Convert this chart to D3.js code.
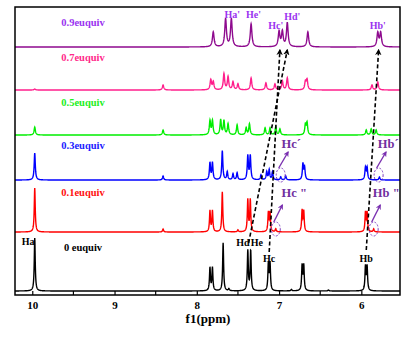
<!DOCTYPE html>
<html>
<head>
<meta charset="utf-8">
<script src="https://cdn.jsdelivr.net/npm/d3@7"></script>
<style>
body { margin: 0; background: #fff; }
text { font-family: "Liberation Serif", "Times New Roman", serif; font-weight: bold; }
</style>
</head>
<body>
<div id="chart"></div>
<script>
var w = 413, h = 339;

// series, bottom to top
var seriesNames = ["0 euquiv", "0.1euquiv", "0.3euquiv", "0.5euquiv", "0.7euquiv", "0.9euquiv"];
var lineColors = ["#000000", "#ff0000", "#0000ff", "#00ee00", "#ff1f8c", "#8e0a8e"];
var labelColors = ["#000000", "#ff1010", "#2020ff", "#22ee22", "#ff2a8a", "#9a33f0"];
var offsets = [4, 63, 115, 160, 205, 248];
var labelLevels = [44, 99, 146, 189, 234, 269];
var widths = [0.007, 0.007, 0.008, 0.009, 0.010, 0.012];

// peaks: [ppm, height]
var peaks0 = [[9.97, 53], [7.84, 23], [7.81, 23], [7.68, 48], [7.61, 2], [7.38, 40], [7.345, 40],
              [7.13, 27], [7.11, 27], [6.85, 1.5], [6.72, 25], [6.70, 25], [6.4, 1], [5.95, 24], [5.93, 24]];
var peaks1 = [[9.97, 44], [8.41, 3], [7.84, 21], [7.81, 21], [7.69, 40], [7.5, 2], [7.38, 32], [7.35, 32],
              [7.13, 19], [7.11, 19], [7.04, 3], [6.72, 21], [6.70, 20], [5.95, 19], [5.93, 19], [5.85, 3]];
var peaks2 = [[9.97, 27], [8.41, 4], [7.84, 17], [7.81, 17], [7.69, 29], [7.63, 8], [7.56, 6], [7.51, 7],
              [7.38, 24], [7.35, 24], [7.22, 5], [7.15, 8], [7.12, 10], [7.08, 8], [6.98, 3], [6.92, 4],
              [6.71, 16], [6.69, 12], [5.95, 12], [5.93, 12], [5.78, 3]];
var peaks3 = [[9.97, 8], [8.41, 5], [7.84, 14], [7.81, 14], [7.71, 15], [7.67, 14], [7.62, 11], [7.51, 10],
              [7.40, 7], [7.36, 11], [7.17, 7], [7.11, 7], [7.04, 8], [6.99, 6], [6.68, 10], [6.66, 12],
              [5.94, 5], [5.88, 6], [5.82, 5]];
var peaks4 = [[9.97, 1], [8.41, 5], [7.83, 10], [7.80, 8], [7.67, 16], [7.62, 13], [7.56, 8], [7.50, 6],
              [7.34, 12], [7.16, 7], [7.05, 6], [6.96, 9], [6.90, 12], [6.68, 8], [6.66, 10],
              [5.87, 5], [5.80, 8]];
var peaks5 = [[7.80, 15], [7.65, 28], [7.58, 28], [7.34, 23], [7.00, 15], [6.96, 15], [6.90, 24],
              [6.65, 15], [5.80, 14], [5.765, 14]];
var peakSets = [peaks0, peaks1, peaks2, peaks3, peaks4, peaks5];

// peak labels: [text, ppm, height, color]
var peakLabels = [["Ha", 10.05, 50, "#000"], ["Hd", 7.44, 49, "#000"], ["He", 7.27, 49, "#000"],
                  ["Hc", 7.12, 33, "#000"], ["Hb", 5.94, 33, "#000"],
                  ["Ha'", 7.57, 277, "#9a33f0"], ["He'", 7.31, 277, "#9a33f0"], ["Hc'", 7.04, 266, "#9a33f0"],
                  ["Hd'", 6.84, 275, "#9a33f0"], ["Hb'", 5.80, 266, "#9a33f0"]];
// shifted-peak notes: [text, ppm(left), height]
var notes = [["Hc\u00b4", 6.97, 147], ["Hb\u00b4", 5.80, 147], ["Hc \"", 6.97, 98], ["Hb \"", 5.86, 98]];
// dashed circles + arrow: [ppm, height, arrow end ppm, arrow end height]
var circles = [[6.98, 120, 6.89, 143], [5.79, 120, 5.70, 143], [7.04, 66, 6.96, 90], [5.85, 66, 5.77, 90]];
// peak tracking lines: [from ppm, from h, to ppm, to h]
var tracks = [[7.37, 52, 6.90, 245], [7.12, 43, 6.99, 245], [5.94, 45, 5.79, 245]];

var xTicks = [10, 9, 8, 7, 6];
var xMinor = [9.5, 8.5, 7.5, 6.5];

var x = d3.scaleLinear().domain([10.21, 5.53]).range([15, 400]);
var y = d3.scaleLinear().domain([0, 290]).range([295, 5]);

var svg = d3.select("#chart").append("svg")
    .attr("width", w)
    .attr("height", h);

var defs = svg.append("defs");
function marker(id, color) {
    defs.append("marker")
        .attr("id", id)
        .attr("viewBox", "0 0 10 10")
        .attr("refX", 8).attr("refY", 5)
        .attr("markerWidth", 4).attr("markerHeight", 4)
        .attr("orient", "auto")
        .append("path")
        .attr("d", "M0,0 L10,5 L0,10 L3,5 Z")
        .attr("fill", color);
}
marker("arrBlack", "#000");
marker("arrPurple", "#7a30b0");

svg.append("clipPath").attr("id", "area")
    .append("rect")
    .attr("x", 15).attr("y", 7)
    .attr("width", 385).attr("height", 288);

var grid = d3.range(5.53, 10.21, 0.002);
var line = d3.line()
    .x(function(d) { return x(d[0]); })
    .y(function(d) { return y(d[1]); });

var traces = svg.append("g").attr("clip-path", "url(#area)");
peakSets.forEach(function(pk, i) {
    var g = widths[i];
    var pts = grid.map(function(p) {
        var s = offsets[i];
        pk.forEach(function(q) {
            var u = (p - q[0]) / g;
            s += q[1] / (1 + u * u);
        });
        return [p, s];
    });
    traces.append("path")
        .datum(pts)
        .attr("d", line)
        .attr("fill", "none")
        .attr("stroke", lineColors[i])
        .attr("stroke-width", 1.4);
});

// series labels
svg.selectAll(".slabel")
    .data(seriesNames)
    .enter()
    .append("text")
    .attr("class", "slabel")
    .attr("x", 83)
    .attr("y", function(d, i) { return y(labelLevels[i]); })
    .attr("text-anchor", "middle")
    .attr("font-size", "10.5px")
    .attr("fill", function(d, i) { return labelColors[i]; })
    .text(function(d) { return d; });

// tracking lines
svg.selectAll(".track")
    .data(tracks)
    .enter()
    .append("line")
    .attr("x1", function(d) { return x(d[0]); })
    .attr("y1", function(d) { return y(d[1]); })
    .attr("x2", function(d) { return x(d[2]); })
    .attr("y2", function(d) { return y(d[3]); })
    .attr("stroke", "#000")
    .attr("stroke-width", 1.6)
    .attr("stroke-dasharray", "4,2.5")
    .attr("marker-end", "url(#arrBlack)");

svg.selectAll(".plabel")
    .data(peakLabels)
    .enter()
    .append("text")
    .attr("x", function(d) { return x(d[1]); })
    .attr("y", function(d) { return y(d[2]); })
    .attr("text-anchor", "middle")
    .attr("font-size", "10px")
    .attr("fill", function(d) { return d[3]; })
    .text(function(d) { return d[0]; });

// dashed circles and arrows
svg.selectAll(".circ")
    .data(circles)
    .enter()
    .append("ellipse")
    .attr("cx", function(d) { return x(d[0]); })
    .attr("cy", function(d) { return y(d[1]); })
    .attr("rx", 4.5).attr("ry", 7)
    .attr("fill", "none")
    .attr("stroke", "#8040c0")
    .attr("stroke-width", 1)
    .attr("stroke-dasharray", "2,1.5");

svg.selectAll(".carr")
    .data(circles)
    .enter()
    .append("line")
    .attr("x1", function(d) { return x(d[0]) - 2; })
    .attr("y1", function(d) { return y(d[1]) - 7; })
    .attr("x2", function(d) { return x(d[2]); })
    .attr("y2", function(d) { return y(d[3]); })
    .attr("stroke", "#7a30b0")
    .attr("stroke-width", 1.4)
    .attr("marker-end", "url(#arrPurple)");

svg.selectAll(".note")
    .data(notes)
    .enter()
    .append("text")
    .attr("x", function(d) { return x(d[1]); })
    .attr("y", function(d) { return y(d[2]); })
    .attr("font-size", "12.5px")
    .attr("fill", "#7030a0")
    .text(function(d) { return d[0]; });

// axis
var xaxis = d3.axisBottom(x).tickValues(xTicks).tickFormat(d3.format("d"))
    .tickSizeInner(-4).tickSizeOuter(0).tickPadding(6);
var ax = svg.append("g")
    .attr("transform", "translate(0,295)")
    .call(xaxis);
ax.select(".domain").remove();
ax.selectAll("line").attr("stroke", "#000").attr("stroke-width", 1.2);
ax.selectAll("text")
    .attr("font-family", "Liberation Serif, serif")
    .attr("font-weight", "bold")
    .attr("font-size", "11px")
    .attr("fill", "#000");

svg.selectAll(".minor")
    .data(xMinor)
    .enter()
    .append("line")
    .attr("x1", function(d) { return x(d); })
    .attr("x2", function(d) { return x(d); })
    .attr("y1", 295).attr("y2", 291)
    .attr("stroke", "#000")
    .attr("stroke-width", 1.2);

svg.append("rect")
    .attr("x", 15).attr("y", 7)
    .attr("width", 385).attr("height", 288)
    .attr("fill", "none")
    .attr("stroke", "#000")
    .attr("stroke-width", 1.5);

svg.append("text")
    .attr("x", 208)
    .attr("y", 323)
    .attr("text-anchor", "middle")
    .attr("font-size", "13px")
    .attr("fill", "#000")
    .text("f1(ppm)");
</script>
</body>
</html>
